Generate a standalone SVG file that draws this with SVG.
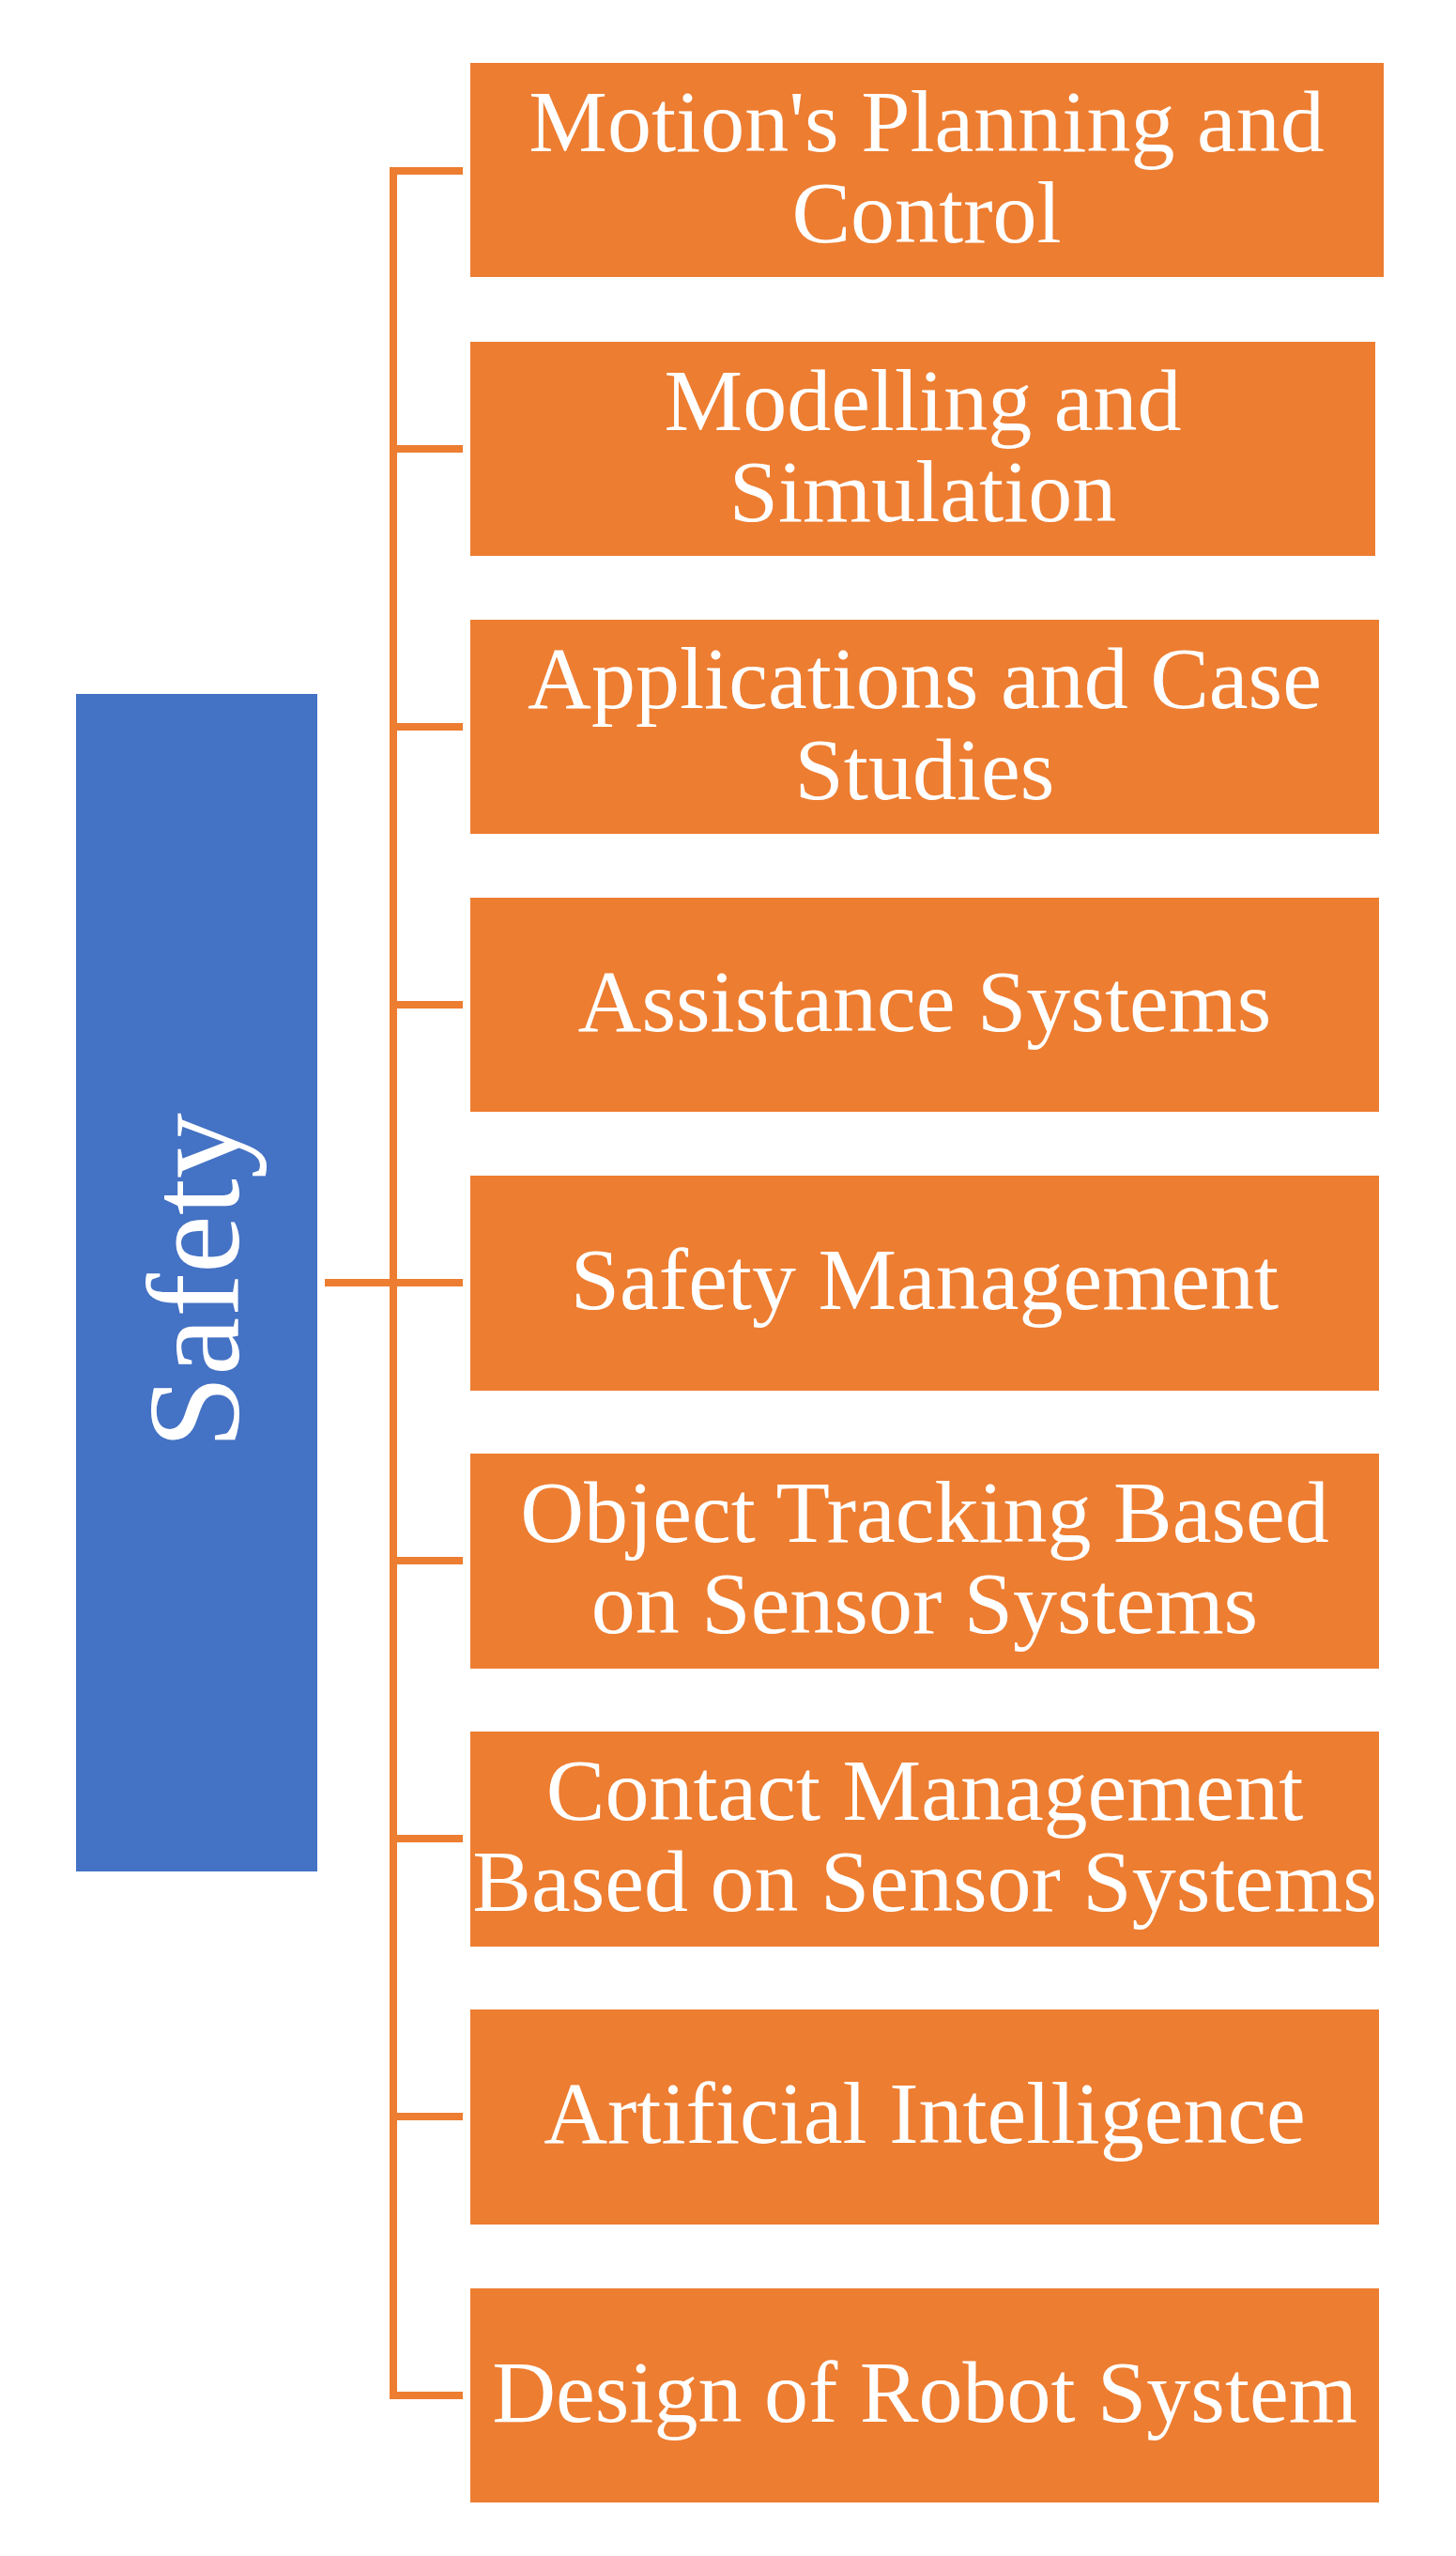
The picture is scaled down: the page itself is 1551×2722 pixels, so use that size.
<svg xmlns="http://www.w3.org/2000/svg" width="1551" height="2722" viewBox="0 0 1551 2722">
<style>
.box{fill:#ED7D31}
.root{fill:#4472C4}
.t{font-family:"Liberation Serif","Times New Roman",serif;font-size:94px;fill:#fff;text-anchor:middle}
.rt{font-family:"Liberation Serif","Times New Roman",serif;font-size:140px;fill:#fff;text-anchor:middle}
.c{stroke:#ED7D31;stroke-width:8;fill:none;stroke-linejoin:miter}
</style>
<rect width="1551" height="2722" fill="#fff"/>
<g id="connectors">
<path class="c" d="M493,182 H419 V2551 H493"/>
<path class="c" d="M419,478 H493 M419,774 H493 M419,1070 H493 M346,1366 H493 M419,1662 H493 M419,1958 H493 M419,2254 H493"/>
</g>
<g id="root">
<rect class="root" x="81" y="739" width="257" height="1254"/>
<text class="rt" transform="translate(254,1364) rotate(-90)" x="0" y="0">Safety</text>
</g>
<g id="n1">
<rect class="box" x="501" y="67" width="973" height="228"/>
<text class="t" x="987" y="161">Motion's Planning and</text>
<text class="t" x="987" y="258">Control</text>
</g>
<g id="n2">
<rect class="box" x="501" y="364" width="964" height="228"/>
<text class="t" x="983" y="458">Modelling and</text>
<text class="t" x="983" y="555">Simulation</text>
</g>
<g id="n3">
<rect class="box" x="501" y="660" width="968" height="228"/>
<text class="t" x="985" y="754">Applications and Case</text>
<text class="t" x="985" y="851">Studies</text>
</g>
<g id="n4">
<rect class="box" x="501" y="956" width="968" height="228"/>
<text class="t" x="985" y="1098">Assistance Systems</text>
</g>
<g id="n5">
<rect class="box" x="501" y="1252" width="968" height="229"/>
<text class="t" x="985" y="1394">Safety Management</text>
</g>
<g id="n6">
<rect class="box" x="501" y="1548" width="968" height="229"/>
<text class="t" x="985" y="1642">Object Tracking Based</text>
<text class="t" x="985" y="1739">on Sensor Systems</text>
</g>
<g id="n7">
<rect class="box" x="501" y="1844" width="968" height="229"/>
<text class="t" x="985" y="1938">Contact Management</text>
<text class="t" x="985" y="2035">Based on Sensor Systems</text>
</g>
<g id="n8">
<rect class="box" x="501" y="2140" width="968" height="229"/>
<text class="t" x="985" y="2282">Artificial Intelligence</text>
</g>
<g id="n9">
<rect class="box" x="501" y="2437" width="968" height="228"/>
<text class="t" x="985" y="2579">Design of Robot System</text>
</g>
</svg>
